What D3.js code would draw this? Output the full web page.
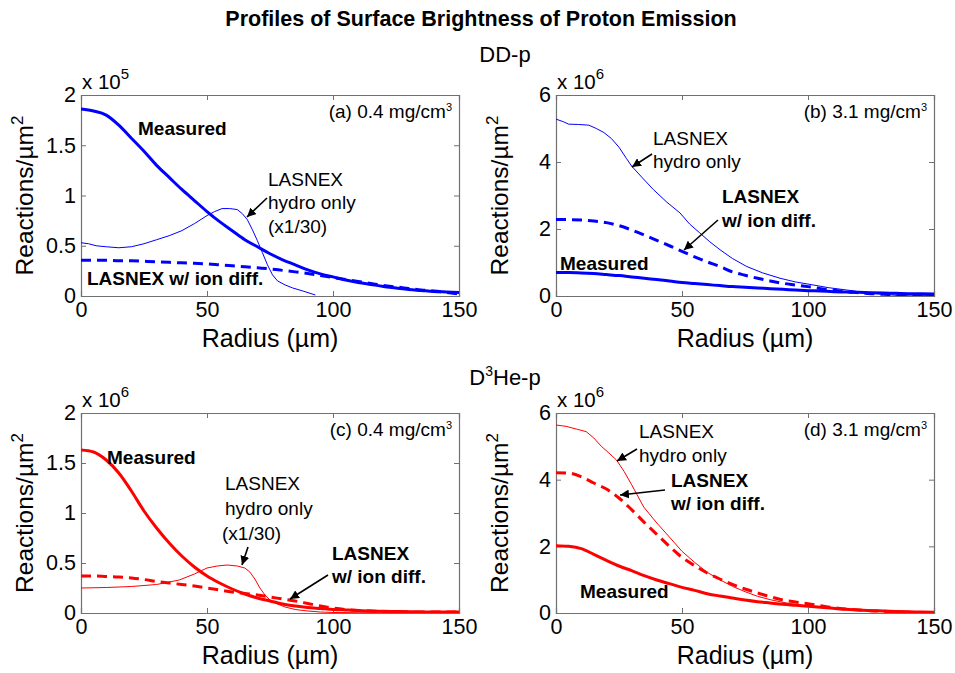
<!DOCTYPE html>
<html><head><meta charset="utf-8">
<script src="https://cdn.jsdelivr.net/npm/d3@7/dist/d3.min.js"></script>
<style>body{margin:0;background:#fff}svg{display:block;font-family:"Liberation Sans",Arial,sans-serif}</style>
</head><body><svg id="c" width="955" height="673"></svg>
<script>
// ---------------- data ----------------
const radiusGrid = [0,5,10,15,20,25,30,35,40,45,50,55,60,65,70,75,80,85,90,95,100,105,110,115,120,125,130,135,140,145,150];
const xTicks = [0,50,100,150];
const yTicksLow = [0,0.5,1,1.5,2];
const yTicksHigh = [0,2,4,6];

// (a) DD-p, 0.4 mg/cm3, units x1e5
const measA = [1.86,1.84,1.80,1.70,1.57,1.44,1.30,1.18,1.06,0.95,0.84,0.74,0.65,0.56,0.49,0.42,0.36,0.31,0.26,0.22,0.19,0.16,0.135,0.115,0.095,0.08,0.065,0.055,0.045,0.04,0.035];
const dashA = [0.355,0.355,0.355,0.35,0.35,0.345,0.34,0.335,0.33,0.325,0.32,0.31,0.30,0.29,0.28,0.27,0.255,0.24,0.225,0.205,0.185,0.165,0.145,0.125,0.105,0.09,0.075,0.06,0.05,0.035,0.02];
const hydroA_r = [0,3,6,10,15,20,25,30,35,40,45,50,53,56,59,62,64,66,68,70,72,74,76,78,81,84,88,93];
const hydroA_v = [0.53,0.52,0.50,0.49,0.48,0.49,0.52,0.56,0.60,0.65,0.72,0.80,0.84,0.87,0.87,0.86,0.82,0.76,0.66,0.55,0.43,0.31,0.21,0.15,0.11,0.08,0.05,0.01];

// (b) DD-p, 3.1 mg/cm3, units x1e6
const measB = [0.70,0.70,0.69,0.67,0.64,0.61,0.57,0.53,0.49,0.45,0.40,0.37,0.34,0.31,0.28,0.26,0.24,0.22,0.20,0.18,0.16,0.15,0.13,0.12,0.11,0.10,0.09,0.08,0.07,0.065,0.06];
const dashB = [2.28,2.28,2.27,2.24,2.19,2.10,1.97,1.82,1.66,1.50,1.33,1.17,1.02,0.88,0.72,0.62,0.53,0.45,0.38,0.33,0.28,0.22,0.17,0.13,0.10,0.07,0.05,0.035,0.025,0.02,0.02];
const hydroB_r = [0,3,5,9,13,16,19,22,25,28,30,34,38.6,44,49.2,53,57.1,61,65.1,70,75.7,82,88.9,95,102,108,115.3,122,128.6,135,142,150];
const hydroB_v = [5.28,5.2,5.13,5.12,5.10,5.0,4.88,4.7,4.44,4.1,3.88,3.55,3.18,2.8,2.48,2.15,1.88,1.62,1.38,1.12,0.88,0.69,0.53,0.42,0.33,0.25,0.18,0.11,0.06,0.02,0.0,0.02];

// (c) D3He-p, 0.4 mg/cm3, units x1e6
const measC = [1.63,1.61,1.53,1.40,1.22,1.02,0.85,0.70,0.57,0.46,0.37,0.30,0.24,0.19,0.15,0.12,0.09,0.07,0.055,0.045,0.035,0.03,0.025,0.02,0.018,0.015,0.012,0.01,0.01,0.01,0.01];
const dashC = [0.37,0.37,0.365,0.36,0.35,0.335,0.315,0.30,0.285,0.27,0.25,0.23,0.21,0.195,0.18,0.16,0.14,0.12,0.095,0.07,0.05,0.035,0.025,0.02,0.015,0.012,0.01,0.01,0.01,0.01,0.01];
const hydroC_r = [0,10,20,30,39,45,50,54,58,62,65,67,69,71,73,75,78,81,85,90,95,100,110,125,150];
const hydroC_v = [0.25,0.255,0.265,0.285,0.33,0.39,0.45,0.47,0.48,0.47,0.45,0.41,0.34,0.25,0.18,0.13,0.09,0.06,0.035,0.02,0.01,0.005,0.003,0.001,0.001];

// (d) D3He-p, 3.1 mg/cm3, units x1e6
const measD = [2.02,2.00,1.93,1.76,1.58,1.41,1.27,1.12,0.99,0.88,0.77,0.68,0.58,0.51,0.45,0.39,0.34,0.30,0.26,0.23,0.20,0.17,0.14,0.11,0.09,0.07,0.06,0.045,0.035,0.03,0.02];
const dashD = [4.21,4.20,4.09,3.90,3.72,3.45,3.10,2.72,2.36,2.00,1.67,1.42,1.20,1.02,0.86,0.72,0.60,0.49,0.39,0.33,0.28,0.22,0.16,0.12,0.09,0.07,0.05,0.035,0.02,0.015,0.01];
const hydroD_r = [0,4,8,12,15,18,21,24,27,30,34.8,40,45,50,55,60,65,70,75,80,85,90,100,110,120,130,140,150];
const hydroD_v = [5.64,5.6,5.52,5.44,5.25,5.0,4.8,4.59,4.25,3.85,3.18,2.7,2.28,1.85,1.52,1.22,1.0,0.8,0.64,0.5,0.4,0.32,0.2,0.13,0.08,0.04,0.02,0.01];

const panelLabels = ["(a) 0.4 mg/cm","(b) 3.1 mg/cm","(c) 0.4 mg/cm","(d) 3.1 mg/cm"];
const exponents = ["5","6","6","6"];

// ---------------- drawing ----------------
const svg = d3.select("#c");
const FONT = '"Liberation Sans",Arial,sans-serif';
const BLUE = "#0000ff", RED = "#ff0000";

svg.append("defs").append("marker")
  .attr("id","arr").attr("viewBox","0 0 10 10").attr("refX",10).attr("refY",5)
  .attr("markerWidth",9).attr("markerHeight",9).attr("markerUnits","userSpaceOnUse")
  .attr("orient","auto")
  .append("path").attr("d","M0,0 L10,5 L0,10 z").attr("fill","#000");

function txt(x,y,s,size,weight,anchor){
  return svg.append("text").attr("x",x).attr("y",y).text(s)
    .attr("font-size",size).attr("font-weight",weight||"normal")
    .attr("text-anchor",anchor||"start").attr("fill","#000");
}
function arrow(x1,y1,x2,y2){
  svg.append("line").attr("x1",x1).attr("y1",y1).attr("x2",x2).attr("y2",y2)
    .attr("stroke","#000").attr("stroke-width",1.6).attr("marker-end","url(#arr)");
}

// title
txt(481,26,"Profiles of Surface Brightness of Proton Emission",21.5,"bold","middle");
txt(505,62,"DD-p",22,"normal","middle");
const d3he = svg.append("text").attr("x",505).attr("y",385).attr("font-size",22).attr("text-anchor","middle");
d3he.append("tspan").text("D");
d3he.append("tspan").text("3").attr("font-size",14).attr("dy",-9);
d3he.append("tspan").text("He-p").attr("dy",9);

const panels = [
  {L:81,T:95,R:459,B:296,ymax:2,yt:yTicksLow,color:BLUE,meas:measA,dash:dashA,hr:hydroA_r,hv:hydroA_v},
  {L:556,T:95,R:934,B:296,ymax:6,yt:yTicksHigh,color:BLUE,meas:measB,dash:dashB,hr:hydroB_r,hv:hydroB_v},
  {L:81,T:413,R:459,B:613,ymax:2,yt:yTicksLow,color:RED,meas:measC,dash:dashC,hr:hydroC_r,hv:hydroC_v},
  {L:556,T:413,R:934,B:613,ymax:6,yt:yTicksHigh,color:RED,meas:measD,dash:dashD,hr:hydroD_r,hv:hydroD_v}
];

panels.forEach((p,i)=>{
  const x = d3.scaleLinear().domain([0,150]).range([p.L,p.R]);
  const y = d3.scaleLinear().domain([0,p.ymax]).range([p.B,p.T]);
  const g = svg.append("g");
  const cid = "clip"+i;
  svg.select("defs").append("clipPath").attr("id",cid).append("rect")
    .attr("x",p.L).attr("y",p.T-2).attr("width",p.R-p.L).attr("height",p.B-p.T+2);

  const axB = d3.axisBottom(x).tickValues(xTicks).tickSize(-5).tickFormat(d3.format("d"));
  const axT = d3.axisTop(x).tickValues(xTicks).tickSize(-5).tickFormat("");
  const axL = d3.axisLeft(y).tickValues(p.yt).tickSize(-5).tickFormat(d=>String(d));
  const axR = d3.axisRight(y).tickValues(p.yt).tickSize(-5).tickFormat("");
  const gb = g.append("g").attr("transform",`translate(0,${p.B})`).call(axB);
  const gt = g.append("g").attr("transform",`translate(0,${p.T})`).call(axT);
  const gl = g.append("g").attr("transform",`translate(${p.L},0)`).call(axL);
  const gr = g.append("g").attr("transform",`translate(${p.R},0)`).call(axR);
  [gb,gt,gl,gr].forEach(a=>{
    a.selectAll("path.domain").attr("stroke","#707070").attr("stroke-width",1.2);
    a.selectAll(".tick line").attr("stroke","#707070");
    a.selectAll("text").attr("font-size",21.5).attr("font-family",FONT).attr("fill","#000");
  });
  gb.selectAll("text").attr("dy","0.71em").attr("y",6);
  gl.selectAll("text").attr("x",-5);

  const ex = svg.append("text").attr("x",p.L+1).attr("y",p.T-6).attr("font-size",20.5);
  ex.append("tspan").text("x 10");
  ex.append("tspan").text(exponents[i]).attr("font-size",15).attr("dy",-10);

  txt((p.L+p.R)/2,p.B+51,"Radius (\u00b5m)",25,"normal","middle");
  const yl = svg.append("text").attr("transform",`translate(${p.L-48},${(p.T+p.B)/2}) rotate(-90)`)
    .attr("font-size",24.5).attr("text-anchor","middle");
  yl.append("tspan").text("Reactions/\u00b5m");
  yl.append("tspan").text("2").attr("font-size",17).attr("dy",-10);

  const pl = svg.append("text").attr("x",p.R-7).attr("y",p.T+23).attr("font-size",19).attr("text-anchor","end");
  pl.append("tspan").text(panelLabels[i]);
  pl.append("tspan").text("3").attr("font-size",11).attr("dy",-7);

  const cg = svg.append("g").attr("clip-path",`url(#${cid})`);
  const lineSmooth = d3.line().x(d=>x(d[0])).y(d=>y(d[1])).curve(d3.curveMonotoneX);
  const lineRough = d3.line().x(d=>x(d[0])).y(d=>y(d[1]));
  cg.append("path").datum(p.hr.map((r,k)=>[r,p.hv[k]])).attr("d",lineRough)
    .attr("fill","none").attr("stroke",p.color).attr("stroke-width",1);
  cg.append("path").datum(radiusGrid.map((r,k)=>[r,p.dash[k]])).attr("d",lineSmooth)
    .attr("fill","none").attr("stroke",p.color).attr("stroke-width",3).attr("stroke-dasharray","10,6");
  cg.append("path").datum(radiusGrid.map((r,k)=>[r,p.meas[k]])).attr("d",lineSmooth)
    .attr("fill","none").attr("stroke",p.color).attr("stroke-width",3);
});

// ---------- annotations ----------
// (a)
txt(138,135,"Measured",19,"bold");
txt(268,186,"LASNEX",19);
txt(268,209,"hydro only",19);
txt(268,233,"(x1/30)",19);
arrow(267,198,247,217);
txt(87,285,"LASNEX w/ ion diff.",19,"bold");
// (b)
txt(653,145,"LASNEX",19);
txt(653,168,"hydro only",19);
arrow(652,154,632,167);
txt(722,203,"LASNEX",19,"bold");
txt(722,227,"w/ ion diff.",19,"bold");
arrow(718,220,684,250);
txt(560,270,"Measured",19,"bold");
// (c)
txt(107,464,"Measured",19,"bold");
txt(225,490,"LASNEX",19);
txt(225,515,"hydro only",19);
txt(222,540,"(x1/30)",19);
arrow(248,547,242,565);
txt(332,560,"LASNEX",19,"bold");
txt(332,583,"w/ ion diff.",19,"bold");
arrow(328,575,290,599);
// (d)
txt(639,438,"LASNEX",19);
txt(639,462,"hydro only",19);
arrow(637,449,617,461);
txt(671,487,"LASNEX",19,"bold");
txt(671,510,"w/ ion diff.",19,"bold");
arrow(665,490,620,495);
txt(580,598,"Measured",19,"bold");
</script></body></html>
